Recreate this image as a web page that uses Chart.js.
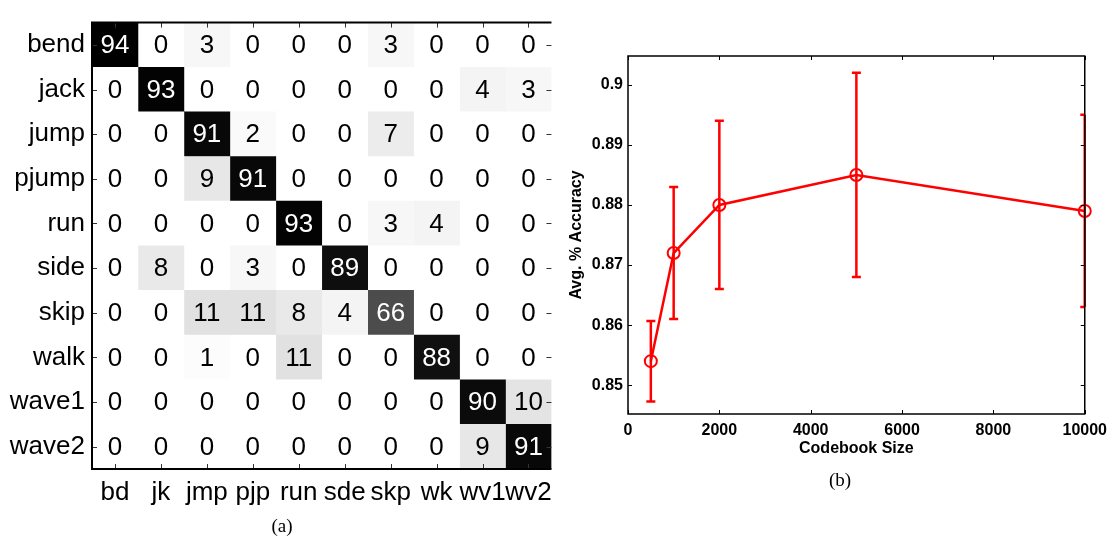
<!DOCTYPE html>
<html>
<head>
<meta charset="utf-8">
<script src="https://cdn.jsdelivr.net/npm/chart.js@4.4.0/dist/chart.umd.min.js"></script>
<style>
  html, body { margin: 0; padding: 0; background: #fff; }
  body { width: 1114px; height: 539px; position: relative; overflow: hidden; }
  #boxA { position: absolute; left: 0; top: 0; width: 560px; height: 539px; }
  #boxB { position: absolute; left: 560px; top: 0; width: 554px; height: 539px; }
  .cap { position: absolute; font-family: "Liberation Serif", serif; font-size: 19px; transform: translate(-50%, -50%); }
</style>
</head>
<body>
<div id="boxA"><canvas id="confChart" width="560" height="539"></canvas></div>
<div id="boxB"><canvas id="sizeChart" width="554" height="539"></canvas></div>
<div class="cap" style="left:282px;top:526px">(a)</div>
<div class="cap" style="left:840px;top:480px">(b)</div>
<script>
// (a) confusion matrix
const rowLabels = ['bend', 'jack', 'jump', 'pjump', 'run', 'side', 'skip', 'walk', 'wave1', 'wave2'];
const colLabels = ['bd', 'jk', 'jmp', 'pjp', 'run', 'sde', 'skp', 'wk', 'wv1', 'wv2'];
const confusion = [
    [94, 0, 3, 0, 0, 0, 3, 0, 0, 0],
    [0, 93, 0, 0, 0, 0, 0, 0, 4, 3],
    [0, 0, 91, 2, 0, 0, 7, 0, 0, 0],
    [0, 0, 9, 91, 0, 0, 0, 0, 0, 0],
    [0, 0, 0, 0, 93, 0, 3, 4, 0, 0],
    [0, 8, 0, 3, 0, 89, 0, 0, 0, 0],
    [0, 0, 11, 11, 8, 4, 66, 0, 0, 0],
    [0, 0, 1, 0, 11, 0, 0, 88, 0, 0],
    [0, 0, 0, 0, 0, 0, 0, 0, 90, 10],
    [0, 0, 0, 0, 0, 0, 0, 0, 9, 91],
];

// (b) accuracy vs codebook size
const codebookSizes = [500, 1000, 2000, 5000, 10000];
const accuracy = [0.854, 0.872, 0.880, 0.885, 0.879];
const accLow = [0.8473, 0.861, 0.866, 0.868, 0.863];
const accHigh = [0.8607, 0.883, 0.894, 0.902, 0.895];
const xTicks = [0, 2000, 4000, 6000, 8000, 10000];
const yTicks = [0.85, 0.86, 0.87, 0.88, 0.89, 0.90];

const cellMax = 94;
function grey(v) {
    const g = Math.round(255 * (1 - v / cellMax));
    return 'rgb(' + g + ',' + g + ',' + g + ')';
}

const sans = 'Liberation Sans';

// numbers in the cells + frame and inward ticks
const cellText = {
    id: 'cellText',
    afterDatasetsDraw(chart) {
        const ctx = chart.ctx;
        const area = chart.chartArea;
        ctx.save();
        ctx.beginPath();
        ctx.rect(area.left, area.top, area.right - area.left, area.bottom - area.top);
        ctx.clip();
        ctx.font = '26px "' + sans + '"';
        ctx.textAlign = 'center';
        ctx.textBaseline = 'middle';
        chart.data.datasets.forEach((ds, j) => {
            chart.getDatasetMeta(j).data.forEach((bar, i) => {
                const v = confusion[i][j];
                ctx.fillStyle = v > 50 ? '#fff' : '#000';
                ctx.fillText(String(v), (bar.x + bar.base) / 2, bar.y + 1);
            });
        });
        ctx.restore();

        const xs = chart.scales.x, ys = chart.scales.y;
        ctx.save();
        ctx.strokeStyle = '#333';
        ctx.lineWidth = 1;
        ctx.beginPath();
        xs.ticks.forEach(t => {
            const px = Math.round(xs.getPixelForValue(t.value)) + 0.5;
            ctx.moveTo(px, area.top); ctx.lineTo(px, area.top + 5);
            ctx.moveTo(px, area.bottom); ctx.lineTo(px, area.bottom - 5);
        });
        rowLabels.forEach((r, i) => {
            const py = Math.round(ys.getPixelForValue(i)) + 0.5;
            ctx.moveTo(area.left, py); ctx.lineTo(area.left + 5, py);
            ctx.moveTo(area.right, py); ctx.lineTo(area.right - 5, py);
        });
        ctx.stroke();
        ctx.strokeStyle = '#000';
        ctx.lineWidth = 2;
        ctx.beginPath();
        ctx.moveTo(area.right, area.top);
        ctx.lineTo(area.left, area.top);
        ctx.lineTo(area.left, area.bottom);
        ctx.lineTo(area.right, area.bottom);
        ctx.stroke();
        ctx.restore();
    }
};

new Chart(document.getElementById('confChart'), {
    type: 'bar',
    data: {
        labels: rowLabels,
        datasets: colLabels.map((c, j) => ({
            label: c,
            data: rowLabels.map(() => 1),
            backgroundColor: confusion.map(r => grey(r[j])),
            barPercentage: 1,
            categoryPercentage: 1,
            borderWidth: 0
        }))
    },
    options: {
        indexAxis: 'y',
        responsive: false,
        animation: false,
        layout: { padding: { top: 9, right: 8, left: 0, bottom: 0 } },
        plugins: { legend: { display: false }, tooltip: { enabled: false } },
        scales: {
            x: {
                type: 'linear',
                stacked: true,
                min: 0,
                max: 10,
                afterBuildTicks: s => { s.ticks = colLabels.map((c, j) => ({ value: j + 0.5 })); },
                afterFit: s => { s.height = 70; },
                grid: { display: false, drawTicks: false },
                border: { display: false },
                ticks: {
                    callback: (v, i) => colLabels[i],
                    font: { family: sans, size: 26 },
                    color: '#000',
                    padding: 8,
                    maxRotation: 0,
                    autoSkip: false
                }
            },
            y: {
                stacked: true,
                afterFit: s => { s.width = 92; },
                grid: { display: false, drawTicks: false },
                border: { display: false },
                ticks: { font: { family: sans, size: 26 }, color: '#000', padding: 7, autoSkip: false }
            }
        }
    },
    plugins: [cellText]
});

// error bars and box for (b)
const errorBars = {
    id: 'errorBars',
    beforeDatasetsDraw(chart) {
        const ctx = chart.ctx;
        const xs = chart.scales.x, ys = chart.scales.y;
        const area = chart.chartArea;
        ctx.save();
        ctx.strokeStyle = '#ff0000';
        ctx.lineWidth = 2.5;
        ctx.beginPath();
        codebookSizes.forEach((s, i) => {
            const px = xs.getPixelForValue(s);
            ctx.moveTo(px, ys.getPixelForValue(accLow[i]));
            ctx.lineTo(px, ys.getPixelForValue(accHigh[i]));
        });
        ctx.stroke();
        ctx.beginPath();
        ctx.rect(area.left, 0, area.right - area.left, chart.height);
        ctx.clip();
        ctx.beginPath();
        codebookSizes.forEach((s, i) => {
            const px = xs.getPixelForValue(s);
            [accLow[i], accHigh[i]].forEach(v => {
                const py = ys.getPixelForValue(v);
                ctx.moveTo(px - 4.5, py); ctx.lineTo(px + 4.5, py);
            });
        });
        ctx.stroke();
        ctx.restore();
    },
    afterDraw(chart) {
        const ctx = chart.ctx;
        const xs = chart.scales.x, ys = chart.scales.y;
        const area = chart.chartArea;
        ctx.save();
        ctx.strokeStyle = '#000';
        ctx.lineWidth = 1;
        ctx.beginPath();
        xTicks.forEach(t => {
            const px = Math.round(xs.getPixelForValue(t)) + 0.5;
            ctx.moveTo(px, area.top); ctx.lineTo(px, area.top + 4);
            ctx.moveTo(px, area.bottom); ctx.lineTo(px, area.bottom - 4);
        });
        yTicks.forEach(t => {
            const py = Math.round(ys.getPixelForValue(t)) + 0.5;
            ctx.moveTo(area.left, py); ctx.lineTo(area.left + 4, py);
            ctx.moveTo(area.right, py); ctx.lineTo(area.right - 4, py);
        });
        ctx.stroke();
        ctx.lineWidth = 1.5;
        ctx.strokeRect(area.left, area.top, area.right - area.left, area.bottom - area.top);
        ctx.restore();
    }
};

const boldFont = { family: sans, size: 16, weight: 'bold' };

new Chart(document.getElementById('sizeChart'), {
    type: 'scatter',
    data: {
        datasets: [{
            data: codebookSizes.map((s, i) => ({ x: s, y: accuracy[i] })),
            showLine: true,
            borderColor: '#ff0000',
            borderWidth: 2.5,
            pointRadius: 6,
            pointBorderWidth: 2,
            pointBackgroundColor: 'rgba(0,0,0,0)',
            pointBorderColor: '#ff0000',
            clip: false
        }]
    },
    options: {
        responsive: false,
        animation: false,
        layout: { padding: { top: 56, right: 27, left: 0, bottom: 79 } },
        plugins: { legend: { display: false }, tooltip: { enabled: false } },
        scales: {
            x: {
                type: 'linear',
                min: 0,
                max: 10000,
                afterBuildTicks: s => { s.ticks = xTicks.map(v => ({ value: v })); },
                afterFit: s => { s.height = 46; },
                grid: { display: false, drawTicks: false },
                border: { display: false },
                ticks: { callback: v => String(v), font: boldFont, color: '#000', padding: 7, maxRotation: 0, autoSkip: false },
                title: { display: true, text: 'Codebook Size', font: boldFont, color: '#000', padding: { top: 0, bottom: 2 } }
            },
            y: {
                type: 'linear',
                min: 0.8452,
                max: 0.9048,
                afterBuildTicks: s => { s.ticks = yTicks.map(v => ({ value: v })); },
                afterFit: s => { s.width = 68; },
                grid: { display: false, drawTicks: false },
                border: { display: false },
                ticks: {
                    callback: v => String(Number(v.toFixed(2))),
                    font: boldFont,
                    color: '#000',
                    padding: 5
                },
                title: { display: true, text: 'Avg. % Accuracy', font: boldFont, color: '#000', padding: { top: 7, bottom: 0 } }
            }
        }
    },
    plugins: [errorBars]
});
</script>
</body>
</html>
